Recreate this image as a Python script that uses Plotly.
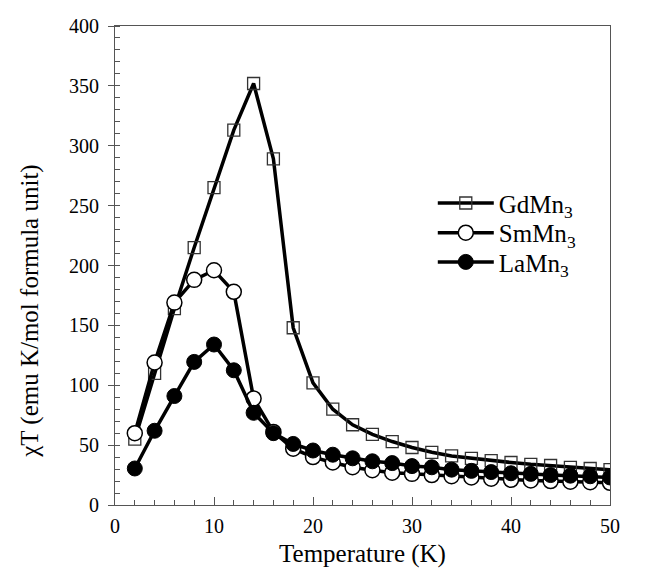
import plotly.graph_objects as go

# Temperature (K)
temp = [2, 4, 6, 8, 10, 12, 14, 16, 18, 20, 22, 24, 26, 28, 30, 32, 34, 36, 38, 40, 42, 44, 46, 48, 50]

# chi*T (emu K/mol formula unit)
gd_mn3 = [55, 110, 164, 215, 265, 313, 352, 289, 148, 102, 80, 67, 59, 53, 48, 44,
          41, 39, 37, 35.5, 34, 33, 31.5, 30.5, 29.5]
sm_mn3 = [60, 119, 169, 188, 196, 178, 89, 61, 47, 40, 35.5, 31.5, 29, 27, 26, 25,
          24, 23, 22, 21, 20.5, 20, 19.5, 19, 18.5]
la_mn3 = [30.5, 62, 91, 119.5, 134, 112.5, 77, 60, 51, 45.5, 42, 39, 36.5, 35, 32.5, 31.5,
          29.5, 28.5, 27.5, 26.5, 26, 25, 24.5, 24, 23]

FONT = "Liberation Serif, Times New Roman, serif"
INK = "black"

fig = go.Figure()

fig.add_trace(go.Scatter(
    x=temp, y=gd_mn3, name="GdMn<sub>3</sub>", mode="lines+markers", legend="legend",
    line=dict(color="black", width=3.5),
    marker=dict(symbol="square-open", size=12, color="#333", line=dict(width=1.3))
))
fig.add_trace(go.Scatter(
    x=temp, y=sm_mn3, name="SmMn<sub>3</sub>", mode="lines+markers", legend="legend2",
    line=dict(color="black", width=3.5),
    marker=dict(symbol="circle", size=15, color="white", line=dict(color="black", width=1.5))
))
fig.add_trace(go.Scatter(
    x=temp, y=la_mn3, name="LaMn<sub>3</sub>", mode="lines+markers", legend="legend3",
    line=dict(color="black", width=3.5),
    marker=dict(symbol="circle", size=15, color="black", line=dict(color="black", width=1))
))

# one legend per entry so the rows can sit as close as in the reference
leg = dict(x=0.642, xanchor="left", yanchor="top", bgcolor="rgba(0,0,0,0)",
           font=dict(family=FONT, size=25, color=INK), itemwidth=56)

fig.update_layout(
    width=655, height=571,
    margin=dict(l=107, r=53, t=18, b=74, autoexpand=False),
    template="plotly_white",
    plot_bgcolor="white", paper_bgcolor="white",
    font=dict(family=FONT, color=INK, size=17),
    showlegend=True,
    legend=dict(leg, y=0.678),
    legend2=dict(leg, y=0.616),
    legend3=dict(leg, y=0.555),
    # y title placed as annotation: it sits below the plot centre in the reference
    annotations=[dict(
        text="χT (emu K/mol formula unit)", textangle=-90,
        xref="paper", yref="paper", x=-0.172, y=0.405, xanchor="center", yanchor="middle",
        showarrow=False, font=dict(family=FONT, size=25, color=INK)
    )],
)

fig.update_xaxes(
    range=[0, 50], tickvals=[0, 10, 20, 30, 40, 50], automargin=False,
    showgrid=False, zeroline=False,
    showline=True, linecolor="#555", linewidth=1.2, mirror=True,
    ticks="inside", ticklen=8, tickcolor="#555", tickwidth=1.2,
    minor=dict(dtick=2, ticks="inside", ticklen=5, tickcolor="#555", tickwidth=1),
    tickfont=dict(family=FONT, size=20, color=INK), ticklabelstandoff=3,
    title=dict(text="Temperature (K)", font=dict(family=FONT, size=25, color=INK), standoff=8),
)
fig.update_yaxes(
    range=[0, 400], tickvals=[0, 50, 100, 150, 200, 250, 300, 350, 400], automargin=False,
    showgrid=False, zeroline=False,
    showline=True, linecolor="#555", linewidth=1.2, mirror=True,
    ticks="outside", ticklen=6, tickcolor="#555", tickwidth=1.2,
    minor=dict(dtick=10, ticks="inside", ticklen=5, tickcolor="#555", tickwidth=1),
    tickfont=dict(family=FONT, size=20, color=INK), ticklabelstandoff=5,
)

fig.write_html("out.html")
